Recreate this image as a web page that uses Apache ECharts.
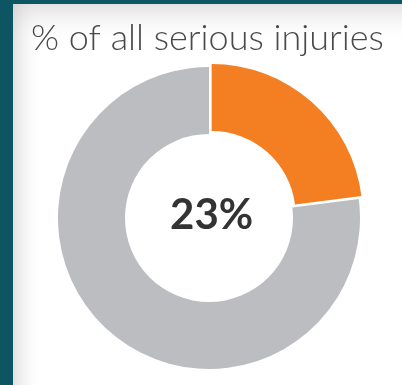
<!DOCTYPE html>
<html>
<head>
<meta charset="utf-8">
<style>
  html, body { margin: 0; padding: 0; background: #0d5562; }
  #chart { width: 402px; height: 385px; }
</style>
<script src="https://cdn.jsdelivr.net/npm/echarts@6/dist/echarts.min.js"></script>
</head>
<body>
<div id="chart"></div>
<script>
// values
var titleText = '% of all serious injuries';
var sliceNames = ['Share', 'Rest'];
var sliceValues = [23, 77];
var sliceColors = ['#f37f22', '#bcbdc0'];

var myChart = echarts.init(document.getElementById('chart'));

var pieData = sliceNames.map(function (n, i) {
  return {
    name: n,
    value: sliceValues[i],
    selected: i === 0,
    itemStyle: { color: sliceColors[i] },
    label: { show: i === 0 }
  };
});

var option = {
  backgroundColor: '#0d5562',
  animation: false,
  graphic: [
    // white panel
    { type: 'rect', z: -3, shape: { x: 13, y: 4, width: 389, height: 381 }, style: { fill: '#ffffff' } },
    // soft shading along the top
    { type: 'rect', z: -2, shape: { x: 13, y: 4, width: 389, height: 40 },
      style: { fill: { type: 'linear', x: 0, y: 0, x2: 0, y2: 1,
        colorStops: [{ offset: 0, color: 'rgba(200,200,200,0.55)' }, { offset: 1, color: 'rgba(255,255,255,0)' }] } } },
    // soft shading along the left edge
    { type: 'rect', z: -2, shape: { x: 13, y: 4, width: 30, height: 381 },
      style: { fill: { type: 'linear', x: 0, y: 0, x2: 1, y2: 0,
        colorStops: [{ offset: 0, color: 'rgba(200,200,200,0.55)' }, { offset: 1, color: 'rgba(255,255,255,0)' }] } } }
  ],
  title: {
    text: titleText,
    left: 26,
    top: 15,
    textStyle: {
      fontFamily: 'Lato',
      fontWeight: 300,
      fontSize: 36,
      color: '#4a4a4a'
    }
  },
  series: [{
    type: 'pie',
    center: [209, 218],
    radius: [84, 151],
    startAngle: 90,
    clockwise: true,
    selectedMode: 'single',
    selectedOffset: 4,
    label: {
      position: 'center',
      formatter: function () { return sliceValues[0] + '%'; },
      fontFamily: 'Lato',
      fontWeight: 'bold',
      fontSize: 42,
      color: '#333333'
    },
    labelLine: { show: false },
    emphasis: { disabled: true },
    data: pieData
  }]
};

myChart.setOption(option);
</script>
</body>
</html>
